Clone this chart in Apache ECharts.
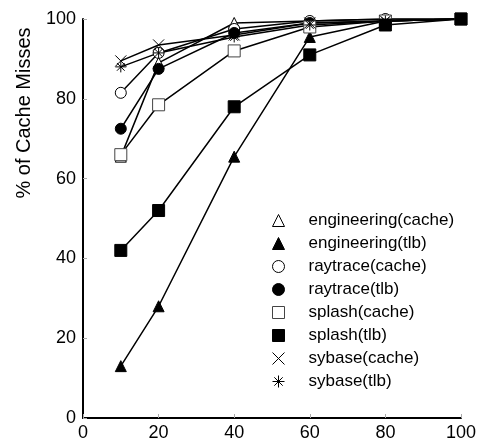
<!DOCTYPE html>
<html>
<head>
<meta charset="utf-8">
<script src="https://cdn.jsdelivr.net/npm/echarts@6/dist/echarts.min.js"></script>
<style>
  html, body { margin: 0; padding: 0; background: #fff; }
  #chart { width: 479px; height: 444px; }
</style>
</head>
<body>
<div id="chart"></div>
<script>
// x positions (fraction of something, 0-100)
var xs = [10, 20, 40, 60, 80, 100];

var engCache    = [65.5, 89, 99, 99.5, 100, 100];
var engTlb      = [13, 28, 65.5, 95.5, 99.5, 100];
var rayCache    = [81.5, 91.5, 97.5, 99.5, 100, 100];
var rayTlb      = [72.5, 87.5, 96.5, 99, 99.5, 100];
var splashCache = [66, 78.5, 92, 98, 99.5, 100];
var splashTlb   = [42, 52, 78, 91, 98.5, 100];
var sybCache    = [89.5, 93.5, 96, 99, 99.5, 100];
var sybTlb      = [88, 91.5, 95.5, 98.5, 99.5, 100];

var seriesNames = ['engineering(cache)', 'engineering(tlb)', 'raytrace(cache)', 'raytrace(tlb)',
  'splash(cache)', 'splash(tlb)', 'sybase(cache)', 'sybase(tlb)'];
var seriesData = [engCache, engTlb, rayCache, rayTlb, splashCache, splashTlb, sybCache, sybTlb];

var FONT = 'Liberation Sans, Arial, sans-serif';
var xPath = 'path://M0,0L10,10M10,0L0,10';
var starPath = 'path://M0,5L10,5M5,0L5,10M1.5,1.5L8.5,8.5M8.5,1.5L1.5,8.5';

// marker look for each series
var marks = [
  { symbol: 'triangle', size: 11, fill: '#fff', line: '#000' },
  { symbol: 'triangle', size: 11, fill: '#000', line: '#000' },
  { symbol: 'circle', size: 11, fill: '#fff', line: '#000' },
  { symbol: 'circle', size: 11, fill: '#000', line: '#000' },
  { symbol: 'rect', size: 12, fill: '#fff', line: '#444' },
  { symbol: 'rect', size: 12, fill: '#000', line: '#000' },
  { symbol: xPath, size: 11, fill: 'rgba(0,0,0,0)', line: '#000' },
  { symbol: starPath, size: 11, fill: 'rgba(0,0,0,0)', line: '#000' }
];

var chart = echarts.init(document.getElementById('chart'));

var series = seriesNames.map(function (name, i) {
  var m = marks[i];
  return {
    name: name,
    type: 'line',
    data: xs.map(function (x, j) { return [x, seriesData[i][j]]; }),
    symbol: m.symbol,
    symbolSize: m.size,
    showAllSymbol: true,
    lineStyle: { color: '#000', width: 1.5 },
    itemStyle: { color: m.fill, borderColor: m.line, borderWidth: 1 },
    emphasis: { disabled: true },
    z: 2
  };
});

var legendData = seriesNames.map(function (name, i) {
  var m = marks[i];
  return {
    name: name,
    icon: m.symbol,
    itemStyle: { color: m.fill, borderColor: m.line, borderWidth: 1 }
  };
});

var option = {
  animation: false,
  backgroundColor: '#fff',
  grid: { left: 83, right: 17, top: 19, bottom: 26 },
  legend: {
    data: legendData,
    orient: 'vertical',
    left: 267,
    top: 207,
    itemWidth: 12,
    itemHeight: 12,
    itemGap: 6,
    selectedMode: false,
    textStyle: { fontFamily: FONT, fontSize: 17, color: '#000', padding: [0, 0, 0, 19] }
  },
  xAxis: {
    type: 'value',
    min: 0, max: 100, interval: 20,
    axisLine: { lineStyle: { color: '#000', width: 2 } },
    axisTick: { inside: true, length: 4, lineStyle: { color: '#aaa' } },
    axisLabel: { fontFamily: FONT, fontSize: 18, color: '#000', margin: 6 },
    splitLine: { show: false }
  },
  yAxis: {
    type: 'value',
    min: 0, max: 100, interval: 20,
    axisLine: { show: true, lineStyle: { color: '#000', width: 2 } },
    axisTick: { show: true, inside: true, length: 4, lineStyle: { color: '#aaa' } },
    axisLabel: { fontFamily: FONT, fontSize: 18, color: '#000', margin: 7 },
    splitLine: { show: false }
  },
  graphic: [{
    type: 'text',
    x: 24, y: 113,
    rotation: Math.PI / 2,
    style: {
      text: '% of Cache Misses',
      font: '20px ' + FONT,
      fill: '#000',
      align: 'center', verticalAlign: 'middle',
      textAlign: 'center', textVerticalAlign: 'middle'
    }
  }],
  series: series
};

chart.setOption(option);
</script>
</body>
</html>
